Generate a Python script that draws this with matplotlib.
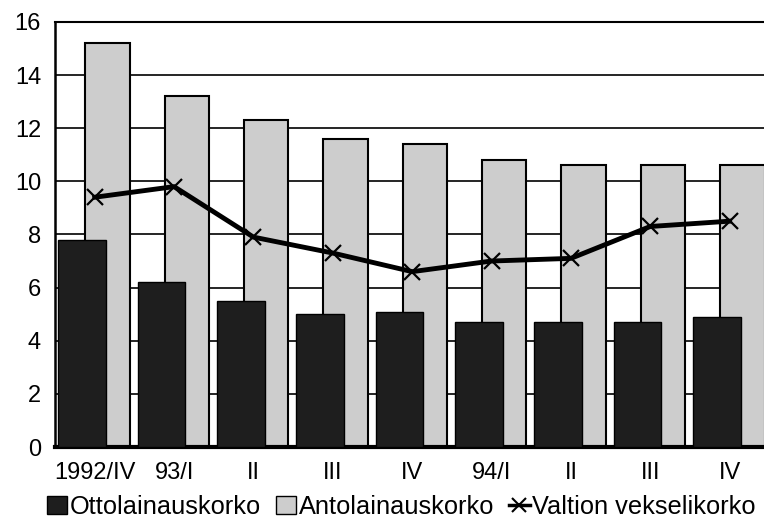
import matplotlib
matplotlib.use('Agg')
import matplotlib.pyplot as plt
import numpy as np
from matplotlib.patches import Patch
from matplotlib.lines import Line2D

plt.rcParams['font.family'] = ['Liberation Sans', 'DejaVu Sans']

quarters = ['1992/IV', '93/I', 'II', 'III', 'IV', '94/I', 'II', 'III', 'IV']
otto = [7.8, 6.2, 5.5, 5.0, 5.1, 4.7, 4.7, 4.7, 4.9]
anto = [15.2, 13.2, 12.3, 11.6, 11.4, 10.8, 10.6, 10.6, 10.6]
valtio = [9.4, 9.8, 7.9, 7.3, 6.6, 7.0, 7.1, 8.3, 8.5]

x = np.arange(len(quarters))

fig = plt.figure(figsize=(7.64, 5.21), dpi=100)
ax = fig.add_axes([0.072, 0.142, 0.935, 0.816])

ax.set_axisbelow(True)
ax.grid(axis='y', color='k', linewidth=1.2)

ax.bar(x + 0.16, anto, width=0.56, color='#cdcdcd', edgecolor='k', linewidth=1.5, zorder=2)
ax.bar(x - 0.16, otto, width=0.6, color='#1e1e1e', edgecolor='k', linewidth=1.0, zorder=3)
ax.plot(x, valtio, '-', color='k', linewidth=3.5, marker='x', markersize=12,
        markeredgewidth=1.6, zorder=4)

ax.set_xlim(-0.5, 8.5)
ax.set_ylim(0, 16)
ax.set_yticks(np.arange(0, 17, 2))
ax.set_xticks(x)
ax.set_xticklabels(quarters)
ax.tick_params(length=0, labelsize=17, pad=10)
ax.tick_params(axis='x', pad=11)

ax.spines['right'].set_visible(False)
ax.spines['left'].set_linewidth(1.8)
ax.spines['top'].set_linewidth(1.5)
ax.spines['bottom'].set_linewidth(3)

handles = [Patch(facecolor='#1e1e1e', edgecolor='k'),
           Patch(facecolor='#cdcdcd', edgecolor='k'),
           Line2D([], [], color='k', linewidth=2.5, marker='x', markersize=10, markeredgewidth=1.5)]
labels = ['Ottolainauskorko', 'Antolainauskorko', 'Valtion vekselikorko']
fig.legend(handles, labels, loc='lower center', bbox_to_anchor=(0.525, -0.04), ncol=3,
           frameon=False, fontsize=18.3, handlelength=0.8, handleheight=0.7,
           handletextpad=0.1, columnspacing=0.6)

fig.savefig('out.png', dpi=100)
